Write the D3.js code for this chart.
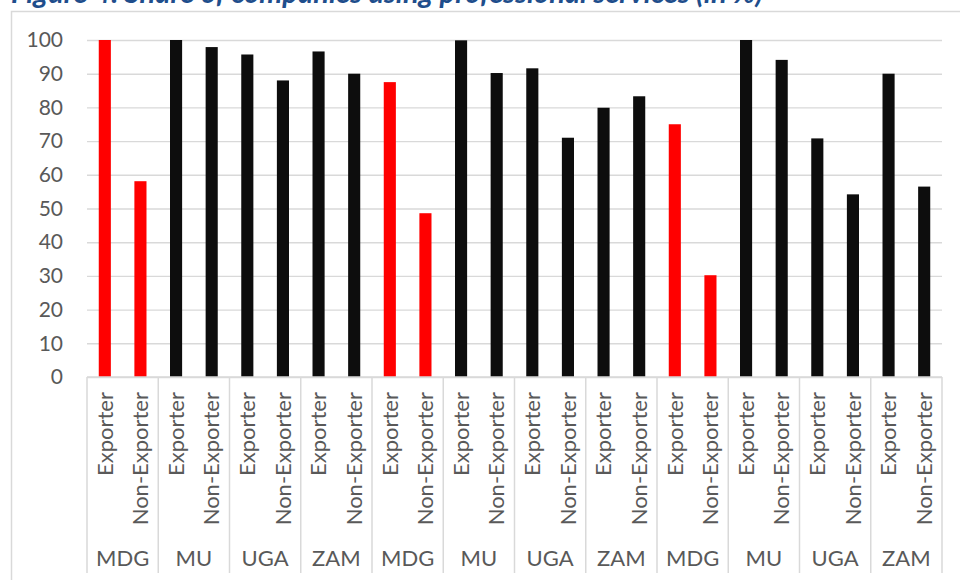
<!DOCTYPE html>
<html lang="en">
<head>
  <meta charset="UTF-8">
  <title>Share of companies using professional services</title>
  <style>
    body {
      margin: 0;
      background: #ffffff;
      font-family: Lato, "Open Sans", sans-serif;
    }
    svg { display: block; }
    .title {
      font-weight: bold;
      font-style: italic;
      fill: #1f4e8c;
    }
    .tick-label { fill: #595959; }
  </style>
</head>
<body>
  <div id="chart"></div>

  <script src="https://d3js.org/d3.v7.min.js"></script>
  <script>
    const title = "Figure 4: Share of companies using professional services (in %)";
    const groups = ["MDG", "MU", "UGA", "ZAM", "MDG", "MU", "UGA", "ZAM", "MDG", "MU", "UGA", "ZAM"];
    const types = ["Exporter", "Non-Exporter"];
    const values = [
      100, 58.1, 100, 97.9, 95.7, 88.0, 96.6, 90.0,
      87.5, 48.6, 99.9, 90.2, 91.6, 71.0, 79.9, 83.3,
      75.0, 30.2, 100, 94.1, 70.8, 54.2, 90.0, 56.5
    ];
    const yTicks = [0, 10, 20, 30, 40, 50, 60, 70, 80, 90, 100];

    const width = 960;
    const height = 580;
    const plot = { left: 87, right: 942, top: 40, bottom: 377 };
    const grey = "#d9d9d9";

    // one row per bar
    const bars = values.map((v, i) => ({
      id: i,
      group: groups[Math.floor(i / 2)],
      groupIndex: Math.floor(i / 2),
      type: types[i % 2],
      value: v
    }));

    const svg = d3.select("#chart")
      .append("svg")
      .attr("width", width)
      .attr("height", height);

    // chart frame (runs off the right and bottom edges)
    svg.append("rect")
      .attr("x", 11.5)
      .attr("y", 11.5)
      .attr("width", 1000)
      .attr("height", 1000)
      .attr("fill", "none")
      .attr("stroke", grey)
      .attr("stroke-width", 1.5);

    // title, clipped at the top
    const titleText = svg.append("text")
      .attr("class", "title")
      .attr("x", 11)
      .attr("y", 3)
      .style("font-size", "26px")
      .text(title);
    const tw = titleText.node().getComputedTextLength();
    titleText.style("font-size", (26 * 752 / tw) + "px");

    const x = d3.scaleBand()
      .domain(bars.map(d => d.id))
      .range([plot.left, plot.right])
      .paddingInner(0.66)
      .paddingOuter(0.33);

    const xGroup = d3.scaleBand()
      .domain(d3.range(groups.length))
      .range([plot.left, plot.right]);

    const y = d3.scaleLinear()
      .domain([0, 100])
      .range([plot.bottom, plot.top]);

    // gridlines + y labels
    const yAxis = d3.axisLeft(y)
      .tickValues(yTicks)
      .tickSize(-(plot.right - plot.left))
      .tickPadding(24);

    const yg = svg.append("g")
      .attr("transform", `translate(${plot.left},0)`)
      .call(yAxis);
    yg.select(".domain").remove();
    yg.selectAll(".tick line")
      .attr("stroke", grey)
      .attr("stroke-width", 1.4);
    yg.selectAll(".tick text")
      .attr("class", "tick-label")
      .attr("font-family", "Lato, sans-serif")
      .style("font-size", "21px");

    // bars
    svg.append("g")
      .selectAll("rect")
      .data(bars)
      .enter()
      .append("rect")
      .attr("x", d => x(d.id))
      .attr("width", x.bandwidth())
      .attr("y", d => y(d.value))
      .attr("height", d => y(0) - y(d.value))
      .attr("fill", d => d.group === "MDG" ? "#ff0000" : "#0d0d0d");

    // x axis line and group separators
    svg.append("line")
      .attr("x1", plot.left)
      .attr("x2", plot.right)
      .attr("y1", plot.bottom)
      .attr("y2", plot.bottom)
      .attr("stroke", grey)
      .attr("stroke-width", 1.5);

    const seps = d3.range(groups.length + 1).map(i =>
      i < groups.length ? xGroup(i) : plot.right);
    svg.append("g")
      .selectAll("line")
      .data(seps)
      .enter()
      .append("line")
      .attr("x1", d => d)
      .attr("x2", d => d)
      .attr("y1", plot.bottom)
      .attr("y2", 573)
      .attr("stroke", grey)
      .attr("stroke-width", 1.5);

    // rotated type labels
    svg.append("g")
      .selectAll("text")
      .data(bars)
      .enter()
      .append("text")
      .attr("class", "tick-label")
      .attr("transform", d => `translate(${x(d.id) + x.bandwidth() / 2},392) rotate(-90)`)
      .attr("text-anchor", "end")
      .attr("dy", "0.35em")
      .style("font-size", "22px")
      .text(d => d.type);

    // country labels
    svg.append("g")
      .selectAll("text")
      .data(groups)
      .enter()
      .append("text")
      .attr("class", "tick-label")
      .attr("x", (d, i) => xGroup(i) + xGroup.bandwidth() / 2)
      .attr("y", 558)
      .attr("text-anchor", "middle")
      .attr("dy", "0.35em")
      .style("font-size", "22px")
      .text(d => d);
  </script>
</body>
</html>
